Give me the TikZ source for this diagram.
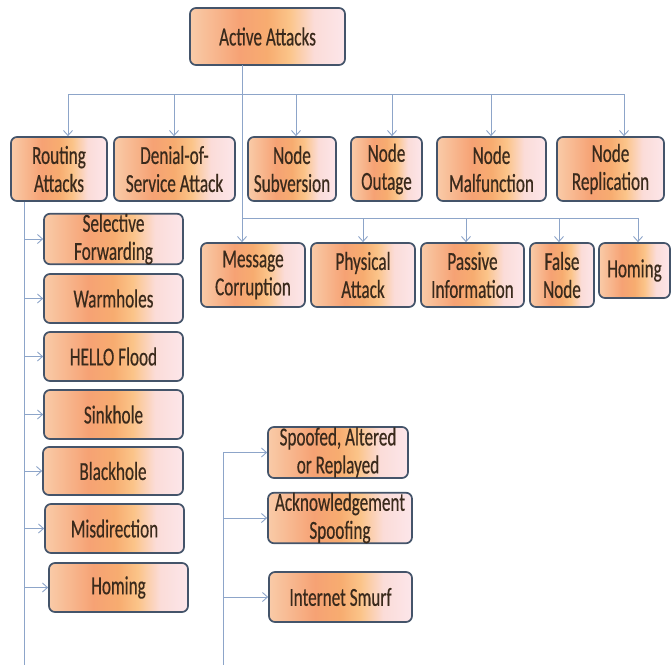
\documentclass[tikz,border=0pt]{standalone}
\usepackage{fontspec}
\setmainfont[FakeStretch=0.66, FakeBold=0.4]{Carlito}
\usetikzlibrary{arrows.meta, calc}
\definecolor{boxedge}{HTML}{44546A}
\definecolor{wireblue}{HTML}{8DA5C9}
\definecolor{peach}{HTML}{F9CBA8}
\definecolor{salmon}{HTML}{F6A274}
\definecolor{deeporange}{HTML}{F7AC70}
\definecolor{amber}{HTML}{FBC489}
\definecolor{rosewhite}{HTML}{FBDCD8}
\definecolor{blush}{HTML}{FCE6EA}
\definecolor{ink}{HTML}{3A2A1C}
\pgfdeclarehorizontalshading{peachfade}{100bp}{color(0bp)=(peach);
    color(25bp)=(peach); color(41bp)=(salmon); color(50bp)=(deeporange);
    color(57bp)=(amber); color(65bp)=(rosewhite); color(75bp)=(blush);
    color(100bp)=(blush)}

\begin{document}
\begin{tikzpicture}[x=1pt, y=-1pt, >={Straight Barb[length=5pt, width=9pt]},
        attack/.style={draw=boxedge, line width=1.7pt, rounded corners=6pt,
            shading=peachfade, text=ink, align=center, inner sep=0pt,
            font=\fontsize{26}{28}\selectfont},
        link/.style={draw=wireblue, line width=0.9pt}]
        \useasboundingbox (0,0) rectangle (672,665);
        \node[attack, minimum width=155pt, minimum height=57pt] (active)
            at (267.5,36.5) {Active Attacks};

        \node[attack, minimum width=96pt, minimum height=64pt] (rout)
            at (59,169) {Routing\\Attacks};
        \node[attack, minimum width=121pt, minimum height=64pt] (dos)
            at (174.5,169) {Denial-of-\\Service Attack};
        \node[attack, minimum width=88pt, minimum height=64pt] (nsub)
            at (292,169) {Node\\Subversion};
        \node[attack, minimum width=71pt, minimum height=64pt] (nout)
            at (386.5,169) {Node\\Outage};
        \node[attack, minimum width=109pt, minimum height=64pt] (nmal)
            at (491.5,169) {Node\\Malfunction};
        \node[attack, minimum width=107pt, minimum height=64pt] (nrep)
            at (610.5,169) {Node\\Replication};

        \node[attack, minimum width=104pt, minimum height=64pt] (mcorr)
            at (253,275) {Message\\Corruption};
        \node[attack, minimum width=104pt, minimum height=64pt] (phys)
            at (363,275) {Physical\\Attack};
        \node[attack, minimum width=103pt, minimum height=64pt] (pinfo)
            at (472.5,275) {Passive\\Information};
        \node[attack, minimum width=64pt, minimum height=64pt] (fnode)
            at (562,275) {False\\Node};
        \node[attack, minimum width=71pt, minimum height=55pt] (homb)
            at (634.5,270.5) {Homing};

        \node[attack, minimum width=139pt, minimum height=50pt] (sfwd)
            at (113.5,239) {Selective\\Forwarding};
        \node[attack, minimum width=139pt, minimum height=49pt] (warm)
            at (113.5,298.5) {Warmholes};
        \node[attack, minimum width=139pt, minimum height=49pt] (hello)
            at (113.5,356.5) {HELLO Flood};
        \node[attack, minimum width=139pt, minimum height=49pt] (sink)
            at (113.5,414.5) {Sinkhole};
        \node[attack, minimum width=140pt, minimum height=48pt] (black)
            at (113,471) {Blackhole};
        \node[attack, minimum width=139pt, minimum height=49pt] (misd)
            at (114.5,528.5) {Misdirection};
        \node[attack, minimum width=139pt, minimum height=49pt] (homa)
            at (118.5,587.5) {Homing};

        \node[attack, minimum width=140pt, minimum height=51pt] (spoof)
            at (338,452.5) {Spoofed, Altered\\or Replayed};
        \node[attack, minimum width=144pt, minimum height=50pt] (ack)
            at (340,518) {Acknowledgement\\Spoofing};
        \node[attack, minimum width=143pt, minimum height=50pt] (smurf)
            at (340.5,597) {Internet Smurf};

        \coordinate (trunk) at (242,65);
        \coordinate (split) at (242,218);
        \coordinate (splitR) at (638,218);
        \coordinate (busL) at (68,94);
        \coordinate (busR) at (624,94);
        \coordinate (lbot) at (24,665);
        \coordinate (rtop) at (223,452.5);
        \coordinate (rbot) at (223,665);

        \draw[link] (trunk) -- (split);
        \draw[link] (busL) -- (busR);
        \foreach \n/\x in {rout/68, dos/174, nsub/296, nout/392, nmal/491, nrep/624} {
            \coordinate (t\n) at (\x,94);
            \draw[link, ->] (t\n) -- (t\n |- \n.north);
        }
        \draw[link] (split) -- (splitR);
        \foreach \n/\x in {mcorr/242, phys/363, pinfo/466, fnode/559, homb/638} {
            \coordinate (t\n) at (\x,218);
            \draw[link, ->] (t\n) -- (t\n |- \n.north);
        }
        \draw[link] (lbot |- rout.south) -- (lbot);
        \foreach \n in {sfwd, warm, hello, sink, black, misd, homa}
            \draw[link, ->] (lbot |- \n.west) -- (\n.west);
        \draw[link] (rtop) -- (rbot);
        \foreach \n in {spoof, ack, smurf}
            \draw[link, ->] (rbot |- \n.west) -- (\n.west);
    \end{tikzpicture}
\end{document}
